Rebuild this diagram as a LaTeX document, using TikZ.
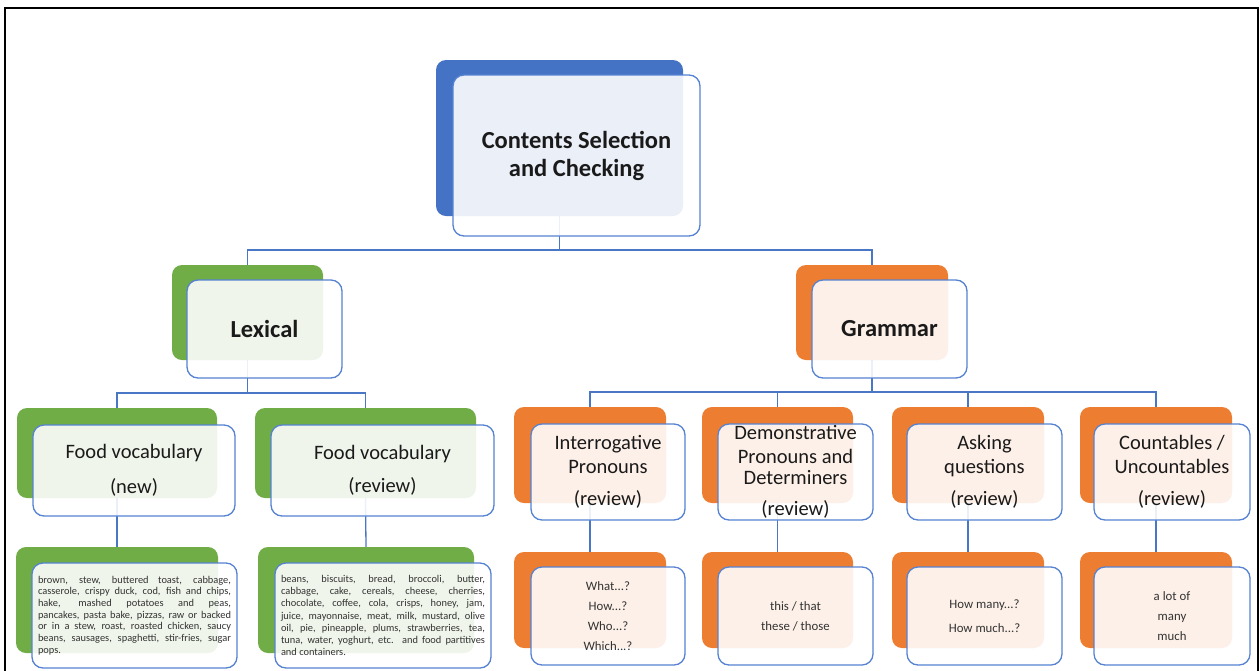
\documentclass[tikz,border=0pt]{standalone}
\usepackage{fontspec}
\setmainfont{Carlito}
\usetikzlibrary{calc}

\definecolor{topblue}{HTML}{4472C4}
\definecolor{lexgreen}{HTML}{70AD47}
\definecolor{gramorange}{HTML}{ED7D31}
\definecolor{edgeblue}{HTML}{5582D2}
\definecolor{linkblue}{HTML}{4A76C6}
\definecolor{inktext}{HTML}{1A1A1A}
\definecolor{softtext}{HTML}{333333}

\tikzset{
  backbox/.style={rounded corners=10pt, draw=none, inner sep=0pt},
  frontbox/.style={rounded corners=11pt, draw=edgeblue, line width=1.3pt,
    fill=white, fill opacity=0.89, text opacity=1, inner sep=0pt,
    align=center, text=inktext},
  link/.style={draw=linkblue, line width=1.3pt},
  headfont/.style={font=\fontsize{24.5}{28}\selectfont\bfseries},
  midfont/.style={font=\fontsize{20.5}{23.5}\selectfont},
  smallfont/.style={font=\fontsize{12.8}{20}\selectfont, text=softtext},
}

\begin{document}
\begin{tikzpicture}[x=1pt,y=-1pt]
\useasboundingbox (0,0) rectangle (1260,670);

% outer frame
\draw[line width=1.5pt, black] (5,672) -- (5,8) -- (1258,8) -- (1258,672);

% ---------- back plates ----------
\node[backbox, fill=topblue, minimum width=247, minimum height=156] (topB) at (559.5,138) {};
\node[backbox, fill=lexgreen, minimum width=151, minimum height=95] (lexB) at (247.5,312.5) {};
\node[backbox, fill=gramorange, minimum width=152, minimum height=95] (gramB) at (872,312.5) {};

\node[backbox, fill=lexgreen, minimum width=200, minimum height=90] (fnewB) at (117,453) {};
\node[backbox, fill=lexgreen, minimum width=221, minimum height=90] (frevB) at (365.5,453) {};
\node[backbox, fill=gramorange, minimum width=152, minimum height=96] (intB) at (590,455) {};
\node[backbox, fill=gramorange, minimum width=151, minimum height=96] (demB) at (777.5,455) {};
\node[backbox, fill=gramorange, minimum width=152, minimum height=96] (askB) at (968,455) {};
\node[backbox, fill=gramorange, minimum width=152, minimum height=96] (cntB) at (1156,455) {};

\node[backbox, fill=lexgreen, minimum width=202, minimum height=106] (fnewCB) at (117,600) {};
\node[backbox, fill=lexgreen, minimum width=216, minimum height=106] (frevCB) at (366,600) {};
\node[backbox, fill=gramorange, minimum width=152, minimum height=96] (intCB) at (590,600) {};
\node[backbox, fill=gramorange, minimum width=151, minimum height=96] (demCB) at (777.5,600) {};
\node[backbox, fill=gramorange, minimum width=152, minimum height=96] (askCB) at (968,600) {};
\node[backbox, fill=gramorange, minimum width=152, minimum height=96] (cntCB) at (1156,600) {};

% ---------- connectors ----------
\coordinate (busTop) at (560,250);
\coordinate (busLex) at (247.5,393);
\coordinate (busGram) at (872,392);

\draw[link] (topB.south) -- (topB.south |- busTop) -| (lexB.north);
\draw[link] (topB.south |- busTop) -| (gramB.north);

\draw[link] (lexB.south) -- (lexB.south |- busLex) -| (fnewB.north);
\draw[link] (lexB.south |- busLex) -| (frevB.north);

\draw[link] (gramB.south) -- (gramB.south |- busGram);
\draw[link] (intB.north) |- (busGram) -| (cntB.north);
\draw[link] (demB.north) -- (demB.north |- busGram);
\draw[link] (askB.north) -- (askB.north |- busGram);

\draw[link] (fnewB.south) -- (fnewCB.north);
\draw[link] (frevB.south) -- (frevCB.north);
\draw[link] (intB.south) -- (intCB.north);
\draw[link] (demB.south) -- (demCB.north);
\draw[link] (askB.south) -- (askCB.north);
\draw[link] (cntB.south) -- (cntCB.north);

% ---------- front boxes ----------
\node[frontbox, headfont, minimum width=247, minimum height=161] (topF) at (576.5,155.5)
  {Contents Selection\\and Checking};
\node[frontbox, headfont, minimum width=155, minimum height=98] (lexF) at (264.5,329) {Lexical};
\node[frontbox, headfont, minimum width=155, minimum height=98] (gramF) at (889.5,329) {Grammar};

\node[frontbox, midfont, minimum width=202, minimum height=91] (fnewF) at (134,470.5)
  {Food vocabulary\\[11pt](new)};
\node[frontbox, midfont, minimum width=223, minimum height=91] (frevF) at (382.5,470.5)
  {Food vocabulary\\[10pt](review)};
\node[frontbox, midfont, minimum width=154, minimum height=96] (intF) at (608,472)
  {Interrogative\\Pronouns\\[9pt](review)};
\node[frontbox, midfont, minimum width=155, minimum height=96] (demF) at (795.5,472)
  {Demonstrative\\Pronouns and\\[-2pt]Determiners\\[7pt](review)};
\node[frontbox, midfont, minimum width=155, minimum height=96] (askF) at (984.5,472)
  {Asking\\questions\\[9pt](review)};
\node[frontbox, midfont, minimum width=156, minimum height=96] (cntF) at (1172,472)
  {Countables /\\Uncountables\\[9pt](review)};

\node[frontbox, minimum width=205, minimum height=105] (fnewCF) at (134.5,615.5)
  {\begin{minipage}{193pt}\fontsize{10.4}{11.7}\selectfont\color{softtext}%
   brown, stew, buttered toast, cabbage,\linebreak
   casserole, crispy duck, cod, fish and chips,\linebreak
   hake, mashed potatoes and peas,\linebreak
   pancakes, pasta bake, pizzas, raw or backed\linebreak
   or in a stew, roast, roasted chicken, saucy\linebreak
   beans, sausages, spaghetti, stir-fries, sugar\linebreak
   pops.\end{minipage}};
\node[frontbox, minimum width=216, minimum height=105] (frevCF) at (383,615.5)
  {\begin{minipage}{204pt}\fontsize{10.4}{12.2}\selectfont\color{softtext}%
   beans, biscuits, bread, broccoli, butter,\linebreak
   cabbage, cake, cereals, cheese, cherries,\linebreak
   chocolate, coffee, cola, crisps, honey, jam,\linebreak
   juice, mayonnaise, meat, milk, mustard, olive\linebreak
   oil, pie, pineapple, plums, strawberries, tea,\linebreak
   tuna, water, yoghurt, etc. and food partitives\linebreak
   and containers.\end{minipage}};

\node[frontbox, smallfont, minimum width=154, minimum height=98] (intCF) at (608,616)
  {What...?\\How...?\\Who...?\\Which...?};
\node[frontbox, smallfont, minimum width=155, minimum height=98] (demCF) at (795.5,616)
  {this / that\\these / those};
\node[frontbox, smallfont, minimum width=155, minimum height=98] (askCF) at (984.5,616)
  {How many...?\\[4pt]How much...?};
\node[frontbox, smallfont, minimum width=156, minimum height=98] (cntCF) at (1172,616)
  {a lot of\\many\\much};
\end{tikzpicture}
\end{document}
